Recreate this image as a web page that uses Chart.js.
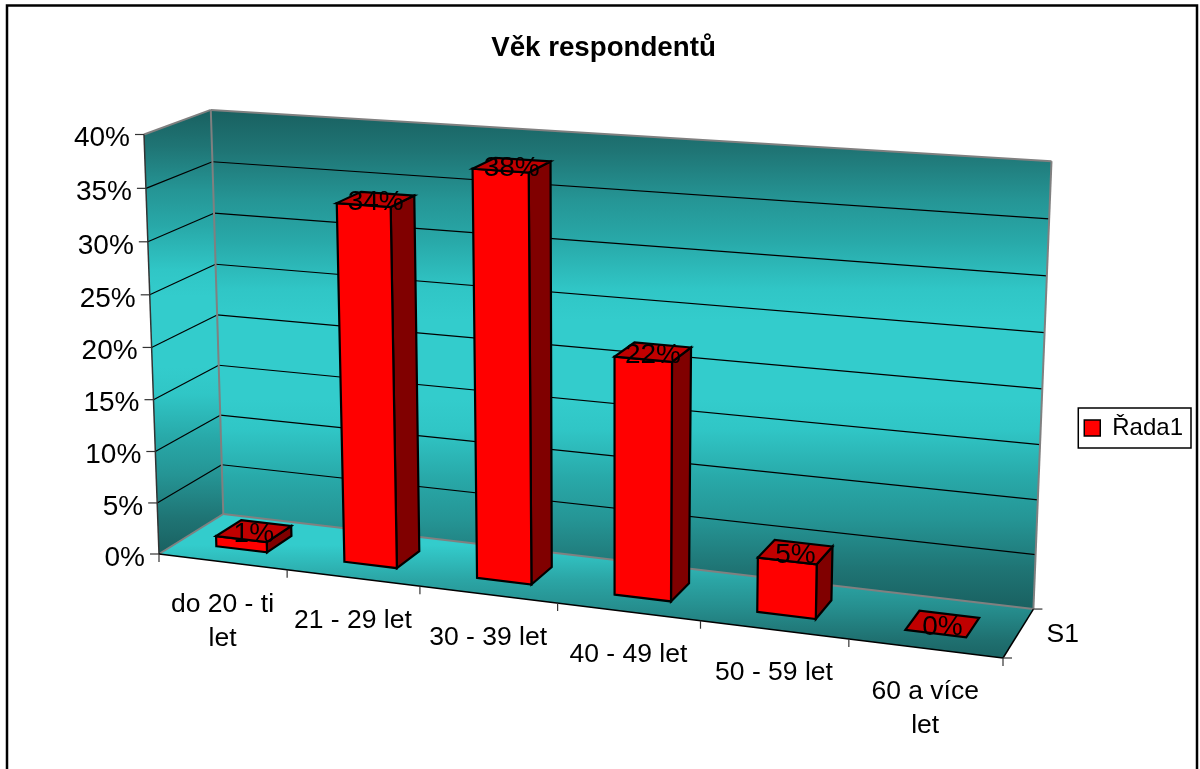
<!DOCTYPE html>
<html lang="cs">
<head>
<meta charset="utf-8">
<title>Věk respondentů</title>
<script src="https://cdn.jsdelivr.net/npm/chart.js@4"></script>
<style>
  html, body { margin: 0; padding: 0; background: #fff; overflow: hidden; }
  canvas { display: block; }
</style>
</head>
<body>
<canvas id="chart" width="1200" height="769"></canvas>
<script>
const chartTitle = 'Věk respondentů';
const categories = [['do 20 - ti', 'let'], '21 - 29 let', '30 - 39 let', '40 - 49 let', '50 - 59 let', ['60 a více', 'let']];
const seriesName = 'Řada1';
const depthLabel = 'S1';
const values = [1, 34, 38, 22, 5, 0];
const yMax = 40;
const yStep = 5;

const FONT = '"Liberation Sans", Arial, sans-serif';
const TICK_FONT = '26.5px ' + FONT;
const BIG_FONT = '28px ' + FONT;

// 3d box of the plot, (u, v, d) each 0..1 -> screen, perspective weights fitted to the picture
const P0 = [159, 554];      // front bottom left
const PU = [1003, 658];     // front bottom right
const PV = [144, 134.5];    // front top left
const PD = [223.3, 514];    // back bottom left
const WU = -0.105, WV = -0.03, WD = 0.04;

function project(u, v, d) {
  const w = 1 + WU * u + WV * v + WD * d;
  const out = [0, 1].map(i => {
    const xu = PU[i] * (1 + WU) - P0[i];
    const xv = PV[i] * (1 + WV) - P0[i];
    const xd = PD[i] * (1 + WD) - P0[i];
    return (P0[i] + xu * u + xv * v + xd * d) / w;
  });
  // back right foot of the wall sits a bit further in than pure perspective gives
  out[0] -= 5 * u * d * (1 - v);
  return out;
}

function poly(ctx, pts, fill, stroke, lw) {
  ctx.beginPath();
  pts.forEach((p, i) => i ? ctx.lineTo(p[0], p[1]) : ctx.moveTo(p[0], p[1]));
  ctx.closePath();
  if (fill) { ctx.fillStyle = fill; ctx.fill(); }
  if (stroke) { ctx.strokeStyle = stroke; ctx.lineWidth = lw; ctx.stroke(); }
}

function line(ctx, a, b, color, lw) {
  ctx.beginPath();
  ctx.moveTo(a[0], a[1]);
  ctx.lineTo(b[0], b[1]);
  ctx.strokeStyle = color;
  ctx.lineWidth = lw;
  ctx.stroke();
}

function wallGradient(ctx, y0, y1) {
  const g = ctx.createLinearGradient(0, y0, 0, y1);
  const stops = [[0, '#196060'], [0.08, '#1f7474'], [0.18, '#259595'], [0.26, '#28a8a8'], [0.36, '#30c6c6'], [0.42, '#33cccc']];
  stops.forEach(s => {
    g.addColorStop(s[0], s[1]);
    g.addColorStop(1 - s[0], s[1]);
  });
  return g;
}

const box3d = {
  id: 'box3d',
  beforeDatasetsDraw(chart) {
    const { ctx, chartArea: area, scales: { x, y } } = chart;
    const vOf = val => (area.bottom - y.getPixelForValue(val)) / area.height;
    const uOf = px => (px - area.left) / area.width;

    ctx.save();
    ctx.lineJoin = 'miter';

    // outer frame
    ctx.strokeStyle = '#000';
    ctx.lineWidth = 2.5;
    ctx.strokeRect(7, 5.5, 1190, 800);

    // walls and floor
    const fbl = project(0, 0, 0), fbr = project(1, 0, 0), ftl = project(0, 1, 0);
    const bbl = project(0, 0, 1), bbr = project(1, 0, 1), btl = project(0, 1, 1), btr = project(1, 1, 1);
    poly(ctx, [btl, btr, bbr, bbl], wallGradient(ctx, btl[1], bbr[1]));
    poly(ctx, [ftl, btl, bbl, fbl], wallGradient(ctx, btl[1], fbl[1]));
    const floorFill = ctx.createLinearGradient(0, bbl[1], 0, fbr[1]);
    floorFill.addColorStop(0, '#33cccc');
    floorFill.addColorStop(0.215, '#33cccc');
    floorFill.addColorStop(0.458, '#2ba5a5');
    floorFill.addColorStop(0.646, '#268f8f');
    floorFill.addColorStop(0.875, '#1f7070');
    floorFill.addColorStop(1, '#1b6464');
    poly(ctx, [fbl, fbr, bbr, bbl], floorFill);

    // gridlines on side and back wall
    y.ticks.forEach(t => {
      const v = vOf(t.value);
      if (t.value > 0 && t.value < yMax) {
        line(ctx, project(0, v, 0), project(0, v, 1), '#000', 1.2);
        line(ctx, project(0, v, 1), project(1, v, 1), '#000', 1.2);
      }
    });

    // wall edges
    [[ftl, btl], [btl, btr], [btr, bbr], [bbr, bbl], [bbl, fbl], [btl, bbl]].forEach(e => line(ctx, e[0], e[1], '#808080', 2));

    // axis lines and tick marks
    line(ctx, ftl, fbl, '#333', 1.5);
    line(ctx, fbl, fbr, '#000', 1.5);
    line(ctx, fbr, bbr, '#000', 1.5);
    line(ctx, bbr, [bbr[0] + 9, bbr[1]], '#333', 1.2);
    line(ctx, fbr, [fbr[0] + 9, fbr[1]], '#333', 1.2);

    ctx.fillStyle = '#000';
    ctx.font = BIG_FONT;
    ctx.textBaseline = 'middle';

    y.ticks.forEach(t => {
      const p = project(0, vOf(t.value), 0);
      line(ctx, [p[0] - 9, p[1]], p, '#333', 1.2);
      ctx.textAlign = 'right';
      ctx.fillStyle = '#000';
      ctx.fillText(t.label, p[0] - 14, p[1] + 4);
    });

    ctx.font = TICK_FONT;
    categories.forEach((cat, i) => {
      const b = project(uOf(x.getPixelForValue(i - 0.5)), 0, 0);
      line(ctx, b, [b[0], b[1] + 8], '#333', 1.2);
      if (i === categories.length - 1) {
        const e = project(1, 0, 0);
        line(ctx, e, [e[0], e[1] + 8], '#333', 1.2);
      }
      const c = project(uOf(x.getPixelForValue(i)), 0, 0);
      const lines = [].concat(cat);
      ctx.textAlign = 'center';
      ctx.fillStyle = '#000';
      lines.forEach((s, j) => ctx.fillText(s, c[0], c[1] + 43 + j * 34));
    });

    const s1 = project(1, 0, 0.5);
    ctx.textAlign = 'left';
    ctx.fillText(depthLabel, s1[0] + 28, s1[1] + 2);

    // bars as boxes, taken from the bar elements
    const D0 = 0.3, D1 = 0.7;
    const bars = chart.getDatasetMeta(0).data;
    bars.forEach(bar => {
      const u0 = uOf(bar.x - bar.width / 2), u1 = uOf(bar.x + bar.width / 2);
      const v0 = (area.bottom - bar.base) / area.height, v1 = (area.bottom - bar.y) / area.height;
      const front = [project(u0, v0, D0), project(u1, v0, D0), project(u1, v1, D0), project(u0, v1, D0)];
      const side = [project(u1, v0, D0), project(u1, v0, D1), project(u1, v1, D1), project(u1, v1, D0)];
      const top = [project(u0, v1, D0), project(u1, v1, D0), project(u1, v1, D1), project(u0, v1, D1)];
      if (v1 > v0) {
        poly(ctx, side, '#800000', '#000', 2.2);
        poly(ctx, front, '#ff0000', '#000', 2.2);
      }
      poly(ctx, top, '#c00000', '#000', 2.2);
    });

    // value labels sit on the top face
    ctx.font = BIG_FONT;
    bars.forEach((bar, i) => {
      const p = project(uOf(bar.x), (area.bottom - bar.y) / area.height, 0.5);
      ctx.textAlign = 'center';
      ctx.fillStyle = '#000';
      ctx.fillText(values[i] + '%', p[0], p[1] + 3);
    });

    // border round the legend
    const hit = chart.legend.legendHitBoxes[0];
    ctx.strokeStyle = '#000';
    ctx.lineWidth = 1.5;
    ctx.strokeRect(hit.left - 6, hit.top - 8, hit.width + 14, hit.height + 16);

    ctx.restore();
    return false;
  }
};

new Chart(document.getElementById('chart'), {
  type: 'bar',
  plugins: [box3d],
  data: {
    labels: categories,
    datasets: [{
      label: seriesName,
      data: values,
      backgroundColor: '#ff0000',
      borderColor: '#000',
      borderWidth: 1.5,
      barPercentage: 0.4,
      categoryPercentage: 1
    }]
  },
  options: {
    responsive: false,
    animation: false,
    layout: { padding: { left: 14, right: 7, top: 28, bottom: 321 } },
    scales: {
      x: { display: false },
      y: {
        display: false,
        min: 0,
        max: yMax,
        ticks: { stepSize: yStep, callback: v => v + '%' }
      }
    },
    plugins: {
      title: {
        display: true,
        text: chartTitle,
        color: '#000',
        font: { family: FONT, size: 27.7, weight: 'bold' },
        padding: { top: 4, bottom: 5 }
      },
      legend: {
        position: 'right',
        align: 'end',
        labels: {
          color: '#000',
          font: { family: FONT, size: 24 },
          boxWidth: 16,
          boxHeight: 16,
          padding: 8
        }
      },
      tooltip: { enabled: false }
    }
  }
});
</script>
</body>
</html>
